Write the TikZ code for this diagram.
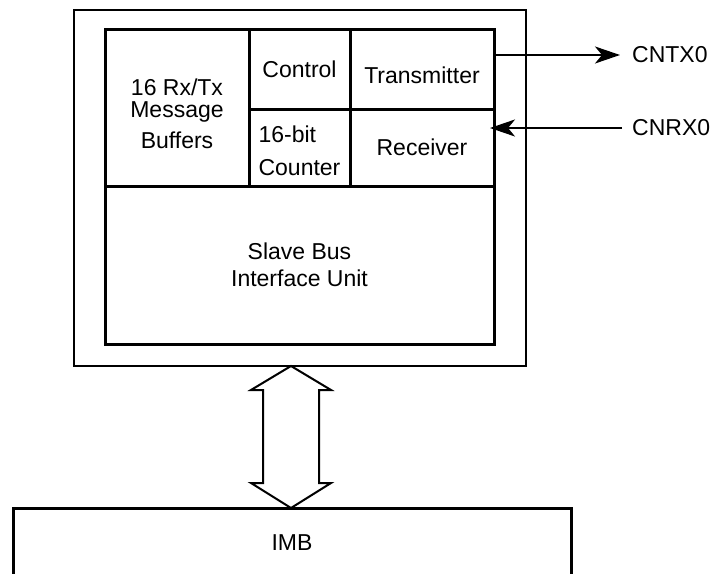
\documentclass[tikz,border=0pt]{standalone}
\usepackage{fontspec}
\setmainfont{Liberation Sans}
\usetikzlibrary{arrows.meta}

\begin{document}
\begin{tikzpicture}[x=1pt,y=-1pt,
  cell/.style={draw, line width=3pt, inner sep=0pt, outer sep=0pt, align=center, font=\fontsize{23}{27}\selectfont},
  frame/.style={draw, line width=2pt, inner sep=0pt, outer sep=0pt},
  pin/.style={font=\fontsize{23}{27}\selectfont, inner sep=4pt, anchor=west},
  sig/.style={-{Stealth[length=25pt,width=17pt,inset=7pt]}, line width=2pt},
  bus/.style={draw, line width=2pt, line join=miter}]
\useasboundingbox (0,0) rectangle (714,573);
\node[frame, minimum width=452pt, minimum height=356pt] (outer) at (300,188) {};
\node[cell, minimum width=144pt, minimum height=157pt] (buf)  at (177,107.5) {\rule{0pt}{29pt}16 Rx/Tx\\[-5pt]Message\\[4pt]Buffers};
\node[cell, minimum width=101pt, minimum height=80pt]  (ctrl) at (299.5,69)  {Control};
\node[cell, minimum width=144pt, minimum height=80pt]  (xmit) at (422,69)    {\rule{0pt}{29pt}Transmitter};
\node[cell, minimum width=101pt, minimum height=77pt, align=left] (cnt) at (299.5,147.7) {\rule{0pt}{22pt}16-bit\\[6pt]Counter};
\node[cell, minimum width=144pt, minimum height=77pt]  (recv) at (422,147.7) {Receiver};
\node[cell, minimum width=389pt, minimum height=158pt] (sbiu) at (299.5,265) {Slave Bus\\Interface Unit};
\node[cell, minimum width=558pt, minimum height=70pt]  (imb)  at (292,543)   {IMB};
\node[pin] (cntx) at (628,55)  {CNTX0};
\node[pin] (cnrx) at (628,128) {CNRX0};
\draw[sig, shorten >=8pt] (xmit.east |- cntx.west) -- (cntx.west);
\draw[sig, shorten <=6pt, shorten >=-4pt] (cnrx.west) -- (recv.east |- cnrx.west);
\draw[bus] ([xshift=-9pt]outer.south) -- ++(-40,24) -- ++(12,0) -- ++(0,93) -- ++(-12,0)
  -- ([xshift=-9pt]outer.south |- imb.north) -- ++(40,-25) -- ++(-12,0) -- ++(0,-93) -- ++(12,0) -- cycle;
\end{tikzpicture}
\end{document}
